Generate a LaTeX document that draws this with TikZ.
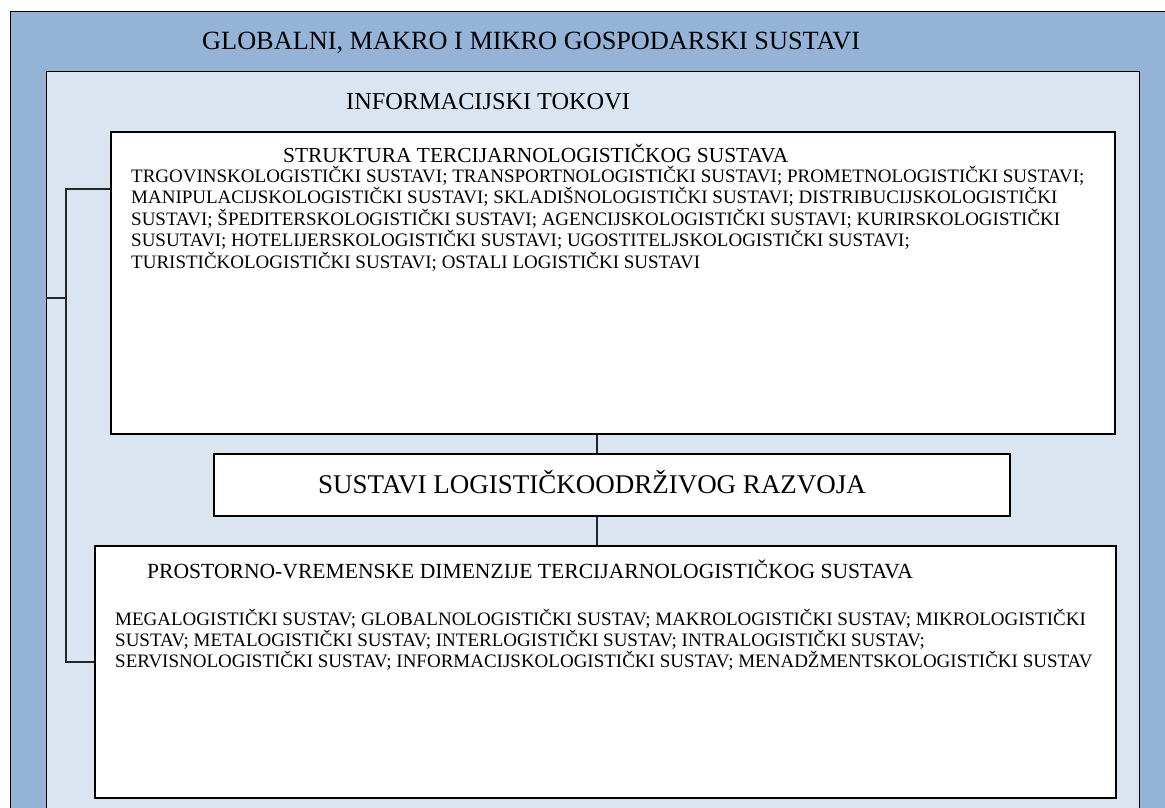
\documentclass[tikz,border=0pt]{standalone}
\usepackage{fontspec}
\setmainfont{Liberation Serif}
\usetikzlibrary{positioning}
\definecolor{outerblue}{HTML}{95B3D7}
\definecolor{innerblue}{HTML}{DBE5F1}

\begin{document}
\begin{tikzpicture}[x=1pt, y=-1pt,
            frame/.style={rectangle, draw=black, line width=1.4pt, anchor=north west, inner sep=0pt},
            box/.style={rectangle, draw=black, fill=white, line width=1.8pt, anchor=north west, inner sep=0pt},
            bigtxt/.style={anchor=base west, inner sep=0pt, font=\fontsize{26.3}{30}\selectfont},
            midtxt/.style={anchor=base west, inner sep=0pt, font=\fontsize{21.4}{24}\selectfont},
            smalltxt/.style={anchor=base west, inner sep=0pt, font=\fontsize{19}{22}\selectfont},
            link/.style={draw=black!85, line width=1.3pt}]
            \useasboundingbox (0,0) rectangle (1165,808);
            \clip (0,0) rectangle (1165,808);
            % backgrounds
            \node[frame, fill=outerblue, minimum width=1200pt, minimum height=850pt] (gosp) at (10,11) {};
            \node[frame, fill=innerblue, minimum width=1093pt, minimum height=800pt] (tokovi) at (46,71) {};
            \node[bigtxt] (gosptxt) at (202,50) {GLOBALNI, MAKRO I MIKRO GOSPODARSKI SUSTAVI};
            \node[bigtxt, font=\fontsize{24.3}{28}\selectfont] (tokovitxt) at (346,110) {INFORMACIJSKI TOKOVI};
            % boxes
            \node[box, minimum width=1004pt, minimum height=302pt] (struk) at (110,131) {};
            \node[box, minimum width=796pt, minimum height=62pt] (razvoj) at (213,453) {};
            \node[box, minimum width=1021pt, minimum height=252pt] (dimen) at (94,545) {};
            \node[midtxt] (struktxt) at (283,162) {STRUKTURA TERCIJARNOLOGISTIČKOG SUSTAVA};
            \def\S{{TRGOVINSKOLOGISTIČKI SUSTAVI; TRANSPORTNOLOGISTIČKI SUSTAVI; PROMETNOLOGISTIČKI SUSTAVI;},
                {MANIPULACIJSKOLOGISTIČKI SUSTAVI; SKLADIŠNOLOGISTIČKI SUSTAVI; DISTRIBUCIJSKOLOGISTIČKI},
                {SUSTAVI; ŠPEDITERSKOLOGISTIČKI SUSTAVI; AGENCIJSKOLOGISTIČKI SUSTAVI; KURIRSKOLOGISTIČKI},
                {SUSUTAVI; HOTELIJERSKOLOGISTIČKI SUSTAVI; UGOSTITELJSKOLOGISTIČKI SUSTAVI;},
                {TURISTIČKOLOGISTIČKI SUSTAVI; OSTALI LOGISTIČKI SUSTAVI}}
            \foreach \x[count=\i from 1] in \S
            {
                \node[smalltxt] (s\i) at (131, 160.5+21.5*\i) {\x};
            }
            \node[bigtxt, font=\fontsize{27}{30}\selectfont] (razvojtxt) at (318,493) {SUSTAVI LOGISTIČKOODRŽIVOG RAZVOJA};
            \node[midtxt, font=\fontsize{21.6}{24}\selectfont] (dimentxt) at (147,578) {PROSTORNO-VREMENSKE DIMENZIJE TERCIJARNOLOGISTIČKOG SUSTAVA};
            \def\D{{MEGALOGISTIČKI SUSTAV; GLOBALNOLOGISTIČKI SUSTAV; MAKROLOGISTIČKI SUSTAV; MIKROLOGISTIČKI},
                {SUSTAV; METALOGISTIČKI SUSTAV; INTERLOGISTIČKI SUSTAV; INTRALOGISTIČKI SUSTAV;},
                {SERVISNOLOGISTIČKI SUSTAV; INFORMACIJSKOLOGISTIČKI SUSTAV; MENADŽMENTSKOLOGISTIČKI SUSTAV}}
            \foreach \x[count=\i from 1] in \D
            {
                \node[smalltxt] (d\i) at (115, 604+21*\i) {\x};
            }
            % connectors
            \coordinate (spoj) at (597,0);
            \coordinate (brtop) at (66,189);
            \coordinate (brmid) at (66,298);
            \coordinate (brbot) at (66,662);
            \draw[link] (struk.south -| spoj) -- (razvoj.north -| spoj);
            \draw[link] (razvoj.south -| spoj) -- (dimen.north -| spoj);
            \draw[link] (struk.west |- brtop) -- (brtop) -- (brbot) -- (dimen.west |- brbot);
            \draw[link] (tokovi.west |- brmid) -- (brmid);
        \end{tikzpicture}
\end{document}
